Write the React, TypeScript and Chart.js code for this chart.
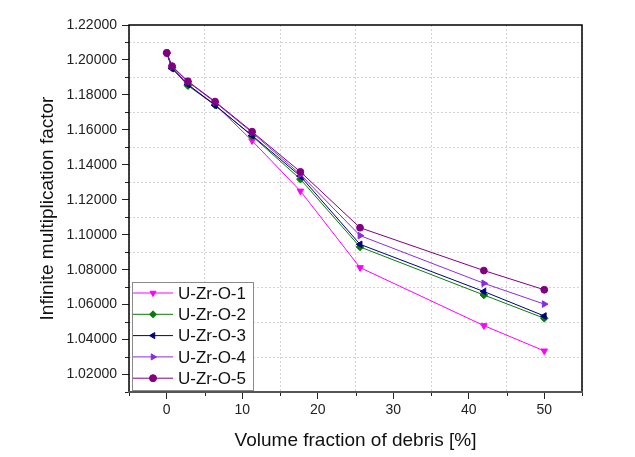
import React, { useEffect, useRef } from 'react';
import { Chart, registerables } from 'chart.js';
Chart.register(...registerables);

// ---- data ----
const volumeFraction = [0, 0.7, 2.8, 6.4, 11.3, 17.7, 25.6, 42, 50];
const seriesNames = ['U-Zr-O-1', 'U-Zr-O-2', 'U-Zr-O-3', 'U-Zr-O-4', 'U-Zr-O-5'];
const uZrO1 = [1.204, 1.1958, 1.1858, 1.1745, 1.1538, 1.125, 1.0812, 1.048, 1.0335];
const uZrO2 = [1.204, 1.1955, 1.1853, 1.1742, 1.1565, 1.1318, 1.093, 1.0655, 1.0522];
const uZrO3 = [1.204, 1.195, 1.186, 1.174, 1.1568, 1.1335, 1.0945, 1.0675, 1.0535];
const uZrO4 = [1.204, 1.196, 1.1875, 1.1758, 1.1585, 1.1345, 1.0995, 1.0722, 1.0603];
const uZrO5 = [1.204, 1.1965, 1.1878, 1.1762, 1.159, 1.136, 1.104, 1.0795, 1.0685];
const seriesValues = [uZrO1, uZrO2, uZrO3, uZrO4, uZrO5];

// ---- styles ----
const seriesColors = ['#FF00FF', '#0A7A0A', '#000080', '#8A2BE2', '#800080'];
const seriesMarkers = ['triangle', 'rectRot', 'triangle', 'triangle', 'circle'];
const seriesRotation = [180, 0, 270, 90, 0];
const FONT = '"Liberation Sans", Arial, sans-serif';

function drawMarker(ctx: CanvasRenderingContext2D, style: string, rot: number, x: number, y: number, r: number, color: string) {
  ctx.save();
  ctx.fillStyle = color;
  ctx.strokeStyle = color;
  ctx.lineWidth = 1;
  ctx.translate(x, y);
  ctx.rotate((rot * Math.PI) / 180);
  ctx.beginPath();
  if (style === 'circle') {
    ctx.arc(0, 0, r, 0, Math.PI * 2);
  } else if (style === 'rectRot') {
    ctx.moveTo(0, -r);
    ctx.lineTo(r, 0);
    ctx.lineTo(0, r);
    ctx.lineTo(-r, 0);
  } else {
    for (let i = 0; i < 3; i++) {
      const a = (i * 2 * Math.PI) / 3;
      const px = Math.sin(a) * r;
      const py = -Math.cos(a) * r;
      if (i === 0) ctx.moveTo(px, py);
      else ctx.lineTo(px, py);
    }
  }
  ctx.closePath();
  ctx.fill();
  ctx.stroke();
  ctx.restore();
}

const isOddY = (v: number) => Math.abs(Math.round(v * 100)) % 2 === 1;
const isOddX = (v: number) => Math.abs(Math.round(v / 5)) % 2 === 1;

const framePlugin = {
  id: 'framePlugin',
  afterDraw(chart: any) {
    const { ctx, chartArea } = chart;
    const { left, right, top, bottom } = chartArea;
    ctx.save();
    // minor ticks
    ctx.strokeStyle = '#222';
    ctx.lineWidth = 1;
    chart.scales.y.ticks.forEach((t: any) => {
      if (isOddY(t.value)) {
        const py = Math.round(chart.scales.y.getPixelForValue(t.value)) + 0.5;
        ctx.beginPath();
        ctx.moveTo(left - 4, py);
        ctx.lineTo(left, py);
        ctx.stroke();
      }
    });
    chart.scales.x.ticks.forEach((t: any) => {
      if (isOddX(t.value)) {
        const px = Math.round(chart.scales.x.getPixelForValue(t.value)) + 0.5;
        ctx.beginPath();
        ctx.moveTo(px, bottom);
        ctx.lineTo(px, bottom + 4);
        ctx.stroke();
      }
    });
    // frame
    ctx.lineWidth = 1.5;
    ctx.strokeStyle = '#000';
    ctx.beginPath();
    ctx.moveTo(left, bottom);
    ctx.lineTo(left, top);
    ctx.lineTo(right, top);
    ctx.lineTo(right, bottom);
    ctx.stroke();
    ctx.strokeStyle = '#555';
    ctx.lineWidth = 2;
    ctx.beginPath();
    ctx.moveTo(left - 1, bottom);
    ctx.lineTo(right + 1, bottom);
    ctx.stroke();

    // legend
    const lx = left + 3;
    const lw = 121;
    const rowH = 21.3;
    const lh = 108;
    const ly = bottom - 2 - lh;
    ctx.fillStyle = '#fff';
    ctx.fillRect(lx, ly, lw, lh);
    ctx.strokeStyle = '#8a8a8a';
    ctx.lineWidth = 1;
    ctx.strokeRect(lx + 0.5, ly + 0.5, lw, lh);
    ctx.font = `17px ${FONT}`;
    ctx.textBaseline = 'middle';
    ctx.textAlign = 'left';
    seriesNames.forEach((name, i) => {
      const cy = ly + 11 + i * rowH;
      ctx.strokeStyle = seriesColors[i];
      ctx.lineWidth = 1;
      ctx.beginPath();
      ctx.moveTo(lx + 1, cy);
      ctx.lineTo(lx + 41, cy);
      ctx.stroke();
      drawMarker(ctx, seriesMarkers[i], seriesRotation[i], lx + 21, cy, 3.5, seriesColors[i]);
      ctx.fillStyle = '#111';
      ctx.fillText(name, lx + 46, cy + 1);
    });
    ctx.restore();
  },
};

export default function App() {
  const canvasRef = useRef<HTMLCanvasElement | null>(null);

  useEffect(() => {
    if (!canvasRef.current) return;
    const datasets = seriesNames.map((name, i) => ({
      label: name,
      data: volumeFraction.map((x, j) => ({ x, y: seriesValues[i][j] })),
      borderColor: seriesColors[i],
      backgroundColor: seriesColors[i],
      borderWidth: 1,
      pointStyle: seriesMarkers[i] as any,
      rotation: seriesRotation[i],
      pointRadius: seriesMarkers[i] === 'circle' ? 3.4 : 3.8,
      pointBorderWidth: 1,
      pointBackgroundColor: seriesColors[i],
      pointBorderColor: seriesColors[i],
      showLine: true,
      tension: 0,
      order: seriesNames.length - 1 - i,
    }));

    const chart = new Chart(canvasRef.current, {
      type: 'scatter',
      data: { datasets },
      options: {
        animation: false,
        responsive: true,
        maintainAspectRatio: false,
        layout: { padding: { top: 25, right: 53, left: 0, bottom: 0 } },
        plugins: { legend: { display: false }, tooltip: { enabled: false } },
        scales: {
          x: {
            type: 'linear',
            min: -5,
            max: 55,
            afterFit: (s: any) => {
              s.height = 65;
            },
            ticks: {
              stepSize: 5,
              autoSkip: false,
              maxRotation: 0,
              padding: 3,
              color: '#222',
              font: { family: FONT, size: 14 },
              callback: (v: any) => (isOddX(Number(v)) ? '' : String(Math.round(Number(v)))),
            },
            grid: {
              color: (c: any) => (c.tick && isOddX(c.tick.value) ? '#d2d2d2' : 'rgba(0,0,0,0)'),
              tickColor: (c: any) => (c.tick && !isOddX(c.tick.value) ? '#222' : 'rgba(0,0,0,0)'),
              tickLength: 7,
              drawTicks: true,
            },
            border: { display: false, dash: [2, 2] },
            title: {
              display: true,
              text: 'Volume fraction of debris [%]',
              color: '#111',
              font: { family: FONT, size: 19 },
              padding: { top: 0, bottom: 5 },
            },
          },
          y: {
            type: 'linear',
            min: 1.01,
            max: 1.22,
            afterFit: (s: any) => {
              s.width = 129;
            },
            ticks: {
              stepSize: 0.01,
              autoSkip: false,
              padding: 5,
              color: '#222',
              font: { family: FONT, size: 14 },
              callback: (v: any) => (isOddY(Number(v)) ? '' : Number(v).toFixed(5)),
            },
            grid: {
              color: (c: any) => (c.tick && isOddY(c.tick.value) ? '#d2d2d2' : 'rgba(0,0,0,0)'),
              tickColor: (c: any) => (c.tick && !isOddY(c.tick.value) ? '#222' : 'rgba(0,0,0,0)'),
              tickLength: 7,
              drawTicks: true,
            },
            border: { display: false, dash: [2, 2] },
            title: {
              display: true,
              text: 'Infinite multiplication factor',
              color: '#111',
              font: { family: FONT, size: 19 },
              padding: { top: 36, bottom: 0 },
            },
          },
        },
      },
      plugins: [framePlugin],
    });
    return () => chart.destroy();
  }, []);

  return (
    <div style={{ position: 'fixed', left: 0, top: 0, width: 635, height: 457, background: '#fff' }}>
      <canvas ref={canvasRef} />
    </div>
  );
}
